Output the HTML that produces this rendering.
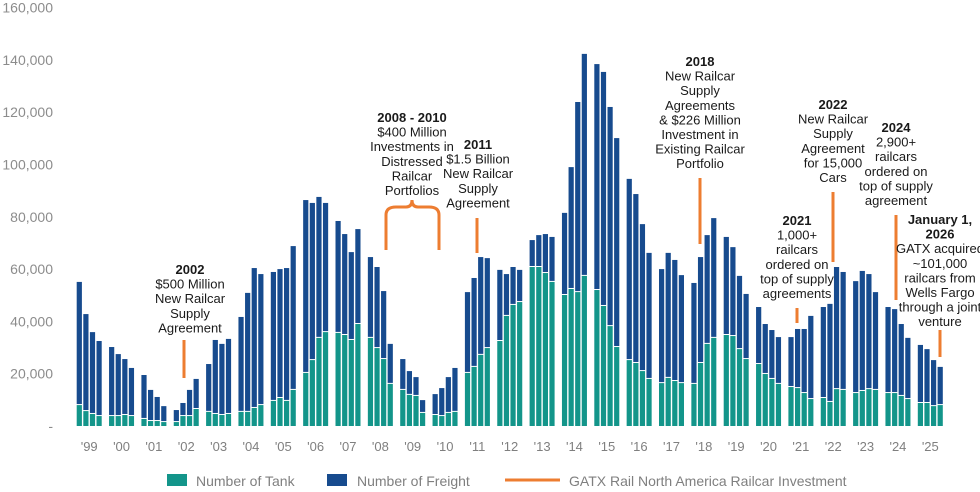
<!DOCTYPE html>
<html><head><meta charset="utf-8"><style>
body{margin:0;background:#fff;}
#wrap{position:relative;width:980px;height:492px;overflow:hidden;font-family:"Liberation Sans",sans-serif;}
svg text{font-family:"Liberation Sans",sans-serif;}
</style></head><body>
<div id="wrap">
<svg id="chart" width="980" height="492"></svg>
</div>
<script>
const years = ["'99","'00","'01","'02","'03","'04","'05","'06","'07","'08","'09","'10","'11","'12","'13","'14","'15","'16","'17","'18","'19","'20","'21","'22","'23","'24","'25"];
const yTicks = [0,20000,40000,60000,80000,100000,120000,140000,160000];
const yTickLabels = ["-","20,000","40,000","60,000","80,000","100,000","120,000","140,000","160,000"];
const tankCounts = [
8000,5700,4600,3800, 3800,3800,4200,3800, 2700,1900,1900,1500, 1500,3800,3800,6500,
5400,4600,4200,4600, 5400,5400,6900,8000, 9600,10700,9600,13800, 20300,25200,33700,35900,
35600,34800,32900,39000, 33700,29800,25600,16100, 13800,11900,11500,5000, 4200,3800,5000,5400,
20300,22600,27200,29800, 32500,42100,46300,47400, 60800,60800,58500,55100, 50100,52400,51200,57400,
52000,45900,38200,30200, 25200,24100,21000,18000, 16400,18400,17200,16400, 16100,24100,31400,33700,
34800,34400,29400,25600, 23700,19900,18000,16100, 14900,14500,12600,10300, 10700,9200,14100,13800,
12600,13400,14100,13800, 12600,12600,11500,10300, 8800,8800,7600,8000];
const totalCounts = [
55100,42800,35900,32500, 30200,27500,25600,22200, 19500,13800,11100,7600, 6100,8800,13800,18000,
23700,32900,31400,33300, 41700,50900,60400,58100, 58900,60000,60400,68800, 86400,85300,87600,85300,
78400,73400,66500,75300, 64600,60800,51600,31400, 25600,21000,18700,9900, 12200,14500,18700,22200,
51200,56600,64600,64200, 59700,58100,60800,59700, 71100,73000,73400,72300, 81500,99000,123900,142300,
138400,135400,122000,110100, 94500,88700,77200,66200, 60000,66200,63500,57700, 54700,64600,73000,79500,
72300,68400,57400,50500, 45500,39000,36700,34000, 34000,37100,37100,42100, 45500,46700,60800,58900,
55400,59300,58100,51200, 45500,44700,39000,33700, 31000,29400,25200,22600];
const freightCounts = totalCounts.map((t,i)=>t-tankCounts[i]);

const NS="http://www.w3.org/2000/svg";
const svg=document.getElementById('chart');
const BASE=426, PXK=2.615/1000;
function yScale(v){return BASE - v*PXK;}
function xBar(i){const yr=Math.floor(i/4), q=i%4; return 76.7+yr*32.35+q*6.6;}
function mk(tag,attrs){const e=document.createElementNS(NS,tag);for(const k in attrs)e.setAttribute(k,attrs[k]);svg.appendChild(e);return e;}

yTicks.forEach((v,i)=>{
  const t=mk('text',{x:53,y:yScale(v)+5,'text-anchor':'end','font-size':14,fill:'#8c8c8c'});
  t.textContent=yTickLabels[i];
  
  
});
years.forEach((y,i)=>{
  const t=mk('text',{x:76.7+i*32.35+12.5,y:451,'text-anchor':'middle','font-size':13,fill:'#7f7f7f'});
  t.textContent=y;
  
  
});
tankCounts.forEach((tv,i)=>{
  const x=xBar(i), yt=yScale(tv), ytot=yScale(tv+freightCounts[i]);
  const r1=mk('rect',{x:x,y:yt,width:5.2,height:BASE-yt,fill:'#13958a'});
  
  
  const r2=mk('rect',{x:x,y:ytot,width:5.2,height:Math.max(0,yt-ytot-1),fill:'#174b8e'});
  
  
});

const notes=[
 {cx:190,y0:270,lines:["2002","$500 Million","New Railcar","Supply","Agreement"],lx:184,l1:340,l2:378},
 {cx:412,y0:118,lines:["2008 - 2010","$400 Million","Investments in","Distressed","Railcar","Portfolios"]},
 {cx:478,y0:145,lines:["2011","$1.5 Billion","New Railcar","Supply","Agreement"],lx:477,l1:218,l2:253},
 {cx:700,y0:62,lines:["2018","New Railcar","Supply","Agreements","& $226 Million","Investment in","Existing Railcar","Portfolio"],lx:700,l1:178,l2:244},
 {cx:797,y0:221,lines:["2021","1,000+","railcars","ordered on","top of supply","agreements"],lx:797,l1:308,l2:323},
 {cx:833,y0:105,lines:["2022","New Railcar","Supply","Agreement","for 15,000","Cars"],lx:833,l1:192,l2:262},
 {cx:896,y0:128,lines:["2024","2,900+","railcars","ordered on","top of supply","agreement"],lx:896,l1:215,l2:300},
 {cx:940,y0:220,lines:["January 1,","2026","GATX acquired","~101,000","railcars from","Wells Fargo","through a joint","venture"],lx:940,l1:330,l2:357}
];
notes.forEach(n=>{
  n.lines.forEach((s,j)=>{
    const bold = j===0 || (n.lines[0]==="January 1," && j===1);
    const t=mk('text',{x:n.cx,y:n.y0+j*14.6+4,'text-anchor':'middle','font-size':13,fill:'#1a1a1a','font-weight':bold?'bold':'normal'});
    t.textContent=s;
    
    
  });
  if(n.lx){
    const l=mk('line',{x1:n.lx,x2:n.lx,y1:n.l1,y2:n.l2,stroke:'#ed7d31','stroke-width':3});
    
    
  }
});
const br=mk('path',{d:'M386,250 L386,215 Q386,207 396,207 L406,207 Q412,207 412,200 Q412,207 418,207 L429,207 Q439,207 439,215 L439,250',fill:'none',stroke:'#ed7d31','stroke-width':3});



// legend
const lg=[['rect',{x:167,y:474,width:20,height:12,fill:'#13958a'},'legend-tank-swatch'],
 ['rect',{x:327,y:474,width:20,height:12,fill:'#174b8e'},'legend-freight-swatch'],
 ['line',{x1:505,x2:560,y1:480,y2:480,stroke:'#ed7d31','stroke-width':3},'legend-investment-swatch']];
lg.forEach(a=>{const e=mk(a[0],a[1]);
  
  });
[[196,'Number of Tank','legend-tank-label'],[357,'Number of Freight','legend-freight-label'],[569,'GATX Rail North America Railcar Investment','legend-investment-label']].forEach(a=>{
  const t=mk('text',{x:a[0],y:486,'font-size':14,fill:'#7f7f7f'});
  t.textContent=a[1];
  
  
});
</script>
</body></html>
